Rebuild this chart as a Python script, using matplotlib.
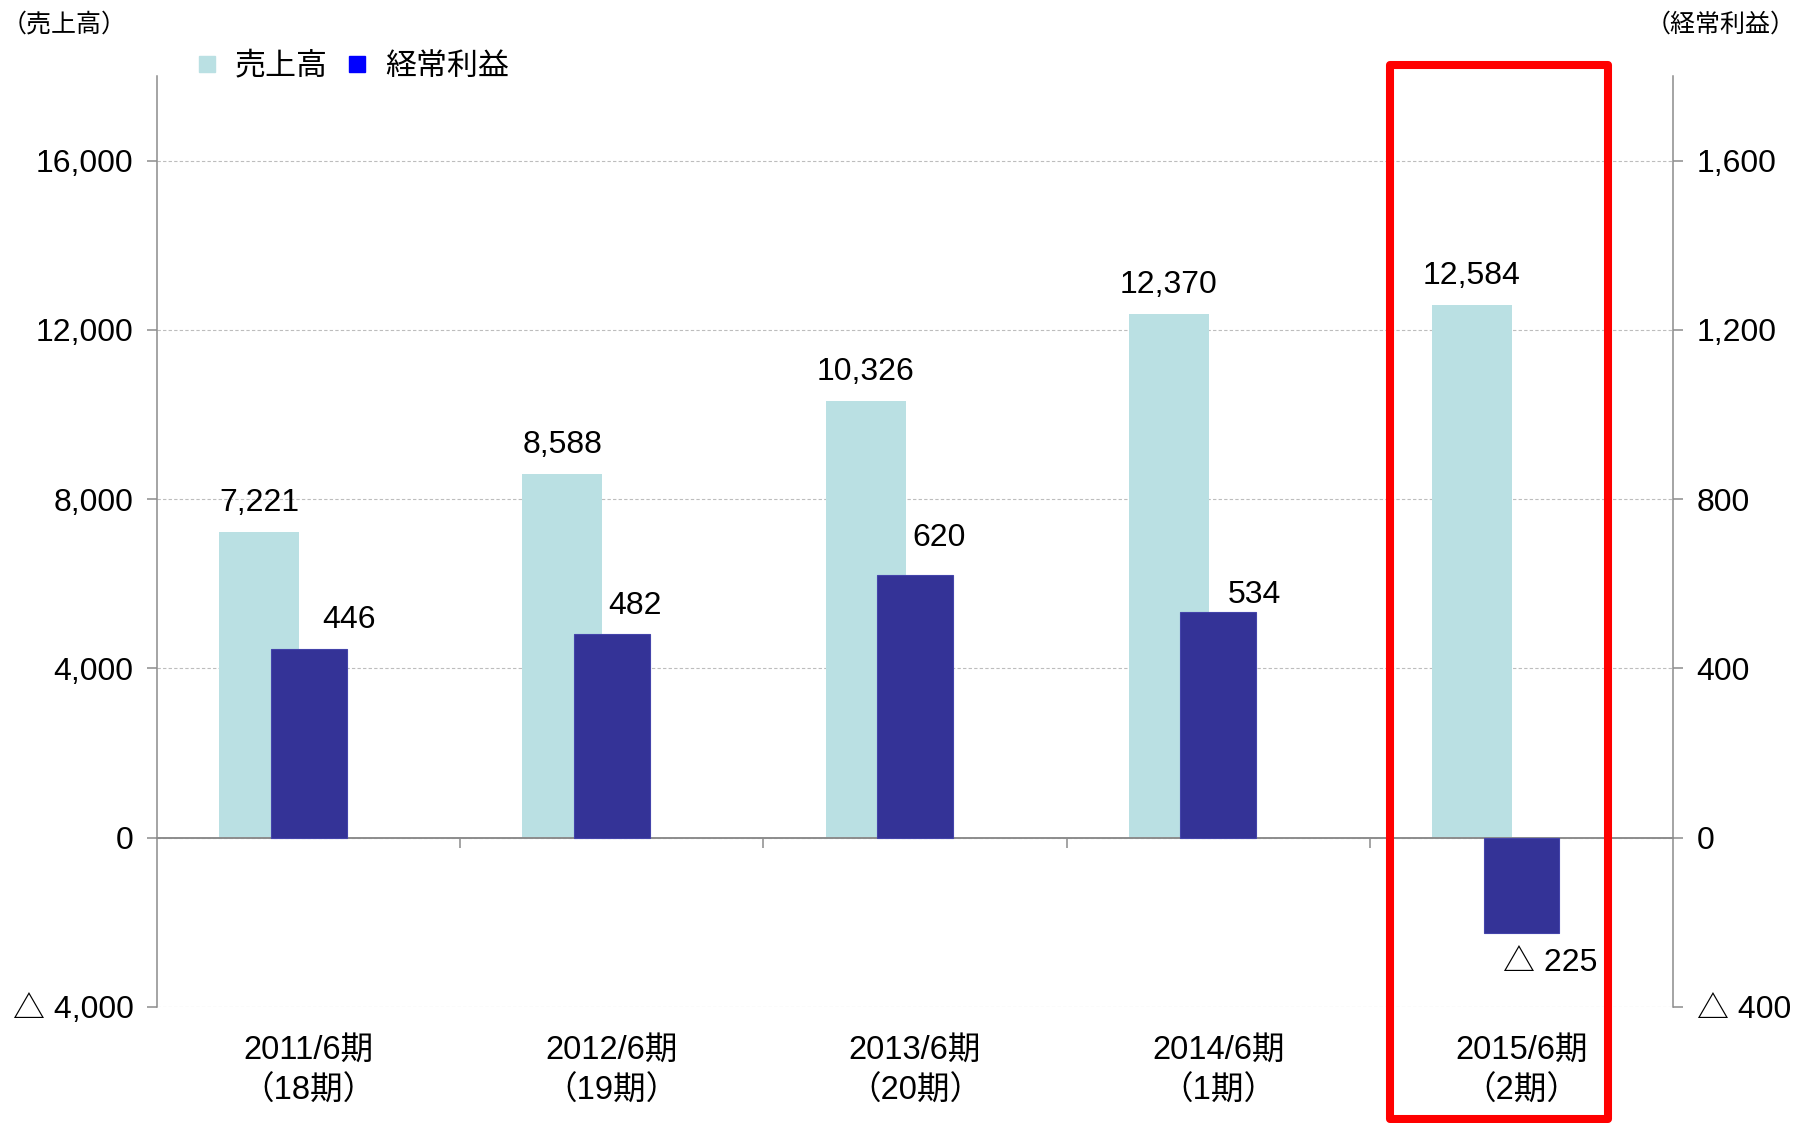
import matplotlib
matplotlib.use("Agg")
import matplotlib.pyplot as plt
from matplotlib.lines import Line2D
from matplotlib.patches import Rectangle

plt.rcParams['font.family'] = ['Liberation Sans', 'Noto Sans CJK JP', 'DejaVu Sans']

# data (百万円)
periods = ['2011/6期', '2012/6期', '2013/6期', '2014/6期', '2015/6期']
terms = ['（18期）', '（19期）', '（20期）', '（1期）', '（2期）']
sales = [7221, 8588, 10326, 12370, 12584]
profit = [446, 482, 620, 534, -225]

sales_ticks = [-4000, 0, 4000, 8000, 12000, 16000]
sales_ticklabels = ['△ 4,000', '0', '4,000', '8,000', '12,000', '16,000']
profit_ticks = [-400, 0, 400, 800, 1200, 1600]
profit_ticklabels = ['△ 400', '0', '400', '800', '1,200', '1,600']

# label nudges in points (x, y) for the profit values
profit_label_offsets = [(29, 21), (17, 20), (17, 27), (26, 12), (21, -22)]

SALES_C = '#BAE0E3'
PROFIT_C = '#343397'
AXIS_C = '#8C8C8C'
FS = 23

def fmt(v):
    return f'{v:,}' if v >= 0 else f'△ {abs(v):,}'

fig = plt.figure(figsize=(17.97, 11.23), dpi=100)
ax = fig.add_axes([0.08737, 0.10330, 0.84363, 0.82903])
ax2 = ax.twinx()

x = list(range(len(periods)))
xs = [i - 0.163 for i in x]
ax.bar(xs, sales, width=0.264, color=SALES_C, zorder=2)
ax2.bar(x, profit, width=0.25, color=PROFIT_C, edgecolor='#4444AA', linewidth=0.8, zorder=2)

ax.set_xlim(-0.5, 4.5)
ax.set_ylim(-4000, 18000)
ax2.set_ylim(-400, 1800)

# value labels
for xi, v in zip(xs, sales):
    ax.annotate(fmt(v), (xi, v), xytext=(0, 21), textcoords='offset points',
                ha='center', va='center', fontsize=FS)
for xi, v, off in zip(x, profit, profit_label_offsets):
    ax2.annotate(fmt(v), (xi, v), xytext=off, textcoords='offset points',
                 ha='center', va='center', fontsize=FS)

# axes styling
ax.set_yticks(sales_ticks)
ax.set_yticklabels(sales_ticklabels, fontsize=FS)
ax2.set_yticks(profit_ticks)
ax2.set_yticklabels(profit_ticklabels, fontsize=FS)
ax.yaxis.grid(True, linestyle=(0, (3, 2)), color='#BDBDBD', linewidth=0.8)
ax.set_axisbelow(True)

ax.spines['bottom'].set_position(('data', 0))
ax.set_xticks([0.5, 1.5, 2.5, 3.5])
ax.set_xticklabels([])
ax.spines['top'].set_visible(False)
ax.spines['right'].set_visible(False)
for s in ('top', 'left', 'bottom'):
    ax2.spines[s].set_visible(False)
ax.spines['left'].set_color(AXIS_C)
ax.spines['left'].set_linewidth(1.1)
ax.spines['bottom'].set_color(AXIS_C)
ax.spines['bottom'].set_linewidth(1.4)
ax2.spines['right'].set_color(AXIS_C)
ax2.spines['right'].set_linewidth(1.1)
ax.tick_params(axis='y', direction='out', length=7, width=1.1, color=AXIS_C, pad=10)
ax.tick_params(axis='x', direction='out', length=7, width=1.1, color=AXIS_C)
ax2.tick_params(axis='y', direction='out', length=7, width=1.1, color=AXIS_C, pad=10)

# category labels below the plot
for xi, p, t in zip(x, periods, terms):
    ax.text(xi, -0.046, p, transform=ax.get_xaxis_transform(),
            ha='center', va='center', fontsize=23.5)
    ax.text(xi, -0.090, t, transform=ax.get_xaxis_transform(),
            ha='center', va='center', fontsize=23.5)

# axis titles
fig.text(0.001, 0.978, '（売上高）', ha='left', va='center', fontsize=18)
fig.text(0.999, 0.978, '（経常利益）', ha='right', va='center', fontsize=18)

# legend
handles = [Line2D([], [], marker='s', ls='', color=SALES_C, markersize=12),
           Line2D([], [], marker='s', ls='', color='#0000FF', markersize=12)]
fig.legend(handles, ['売上高', '経常利益'], loc='center left',
           bbox_to_anchor=(0.1066, 0.9405), ncol=2, frameon=False,
           fontsize=22.3, handlelength=1.0, handletextpad=0.4,
           columnspacing=0.45, borderpad=0, borderaxespad=0)

# highlight frame around the latest period
fig.patches.append(Rectangle((0.7735, 0.0036), 0.1213, 0.9385,
                             transform=fig.transFigure, fill=False,
                             edgecolor='#FF0000', linewidth=5.8,
                             joinstyle='round'))

fig.savefig('out.png', dpi=100)
